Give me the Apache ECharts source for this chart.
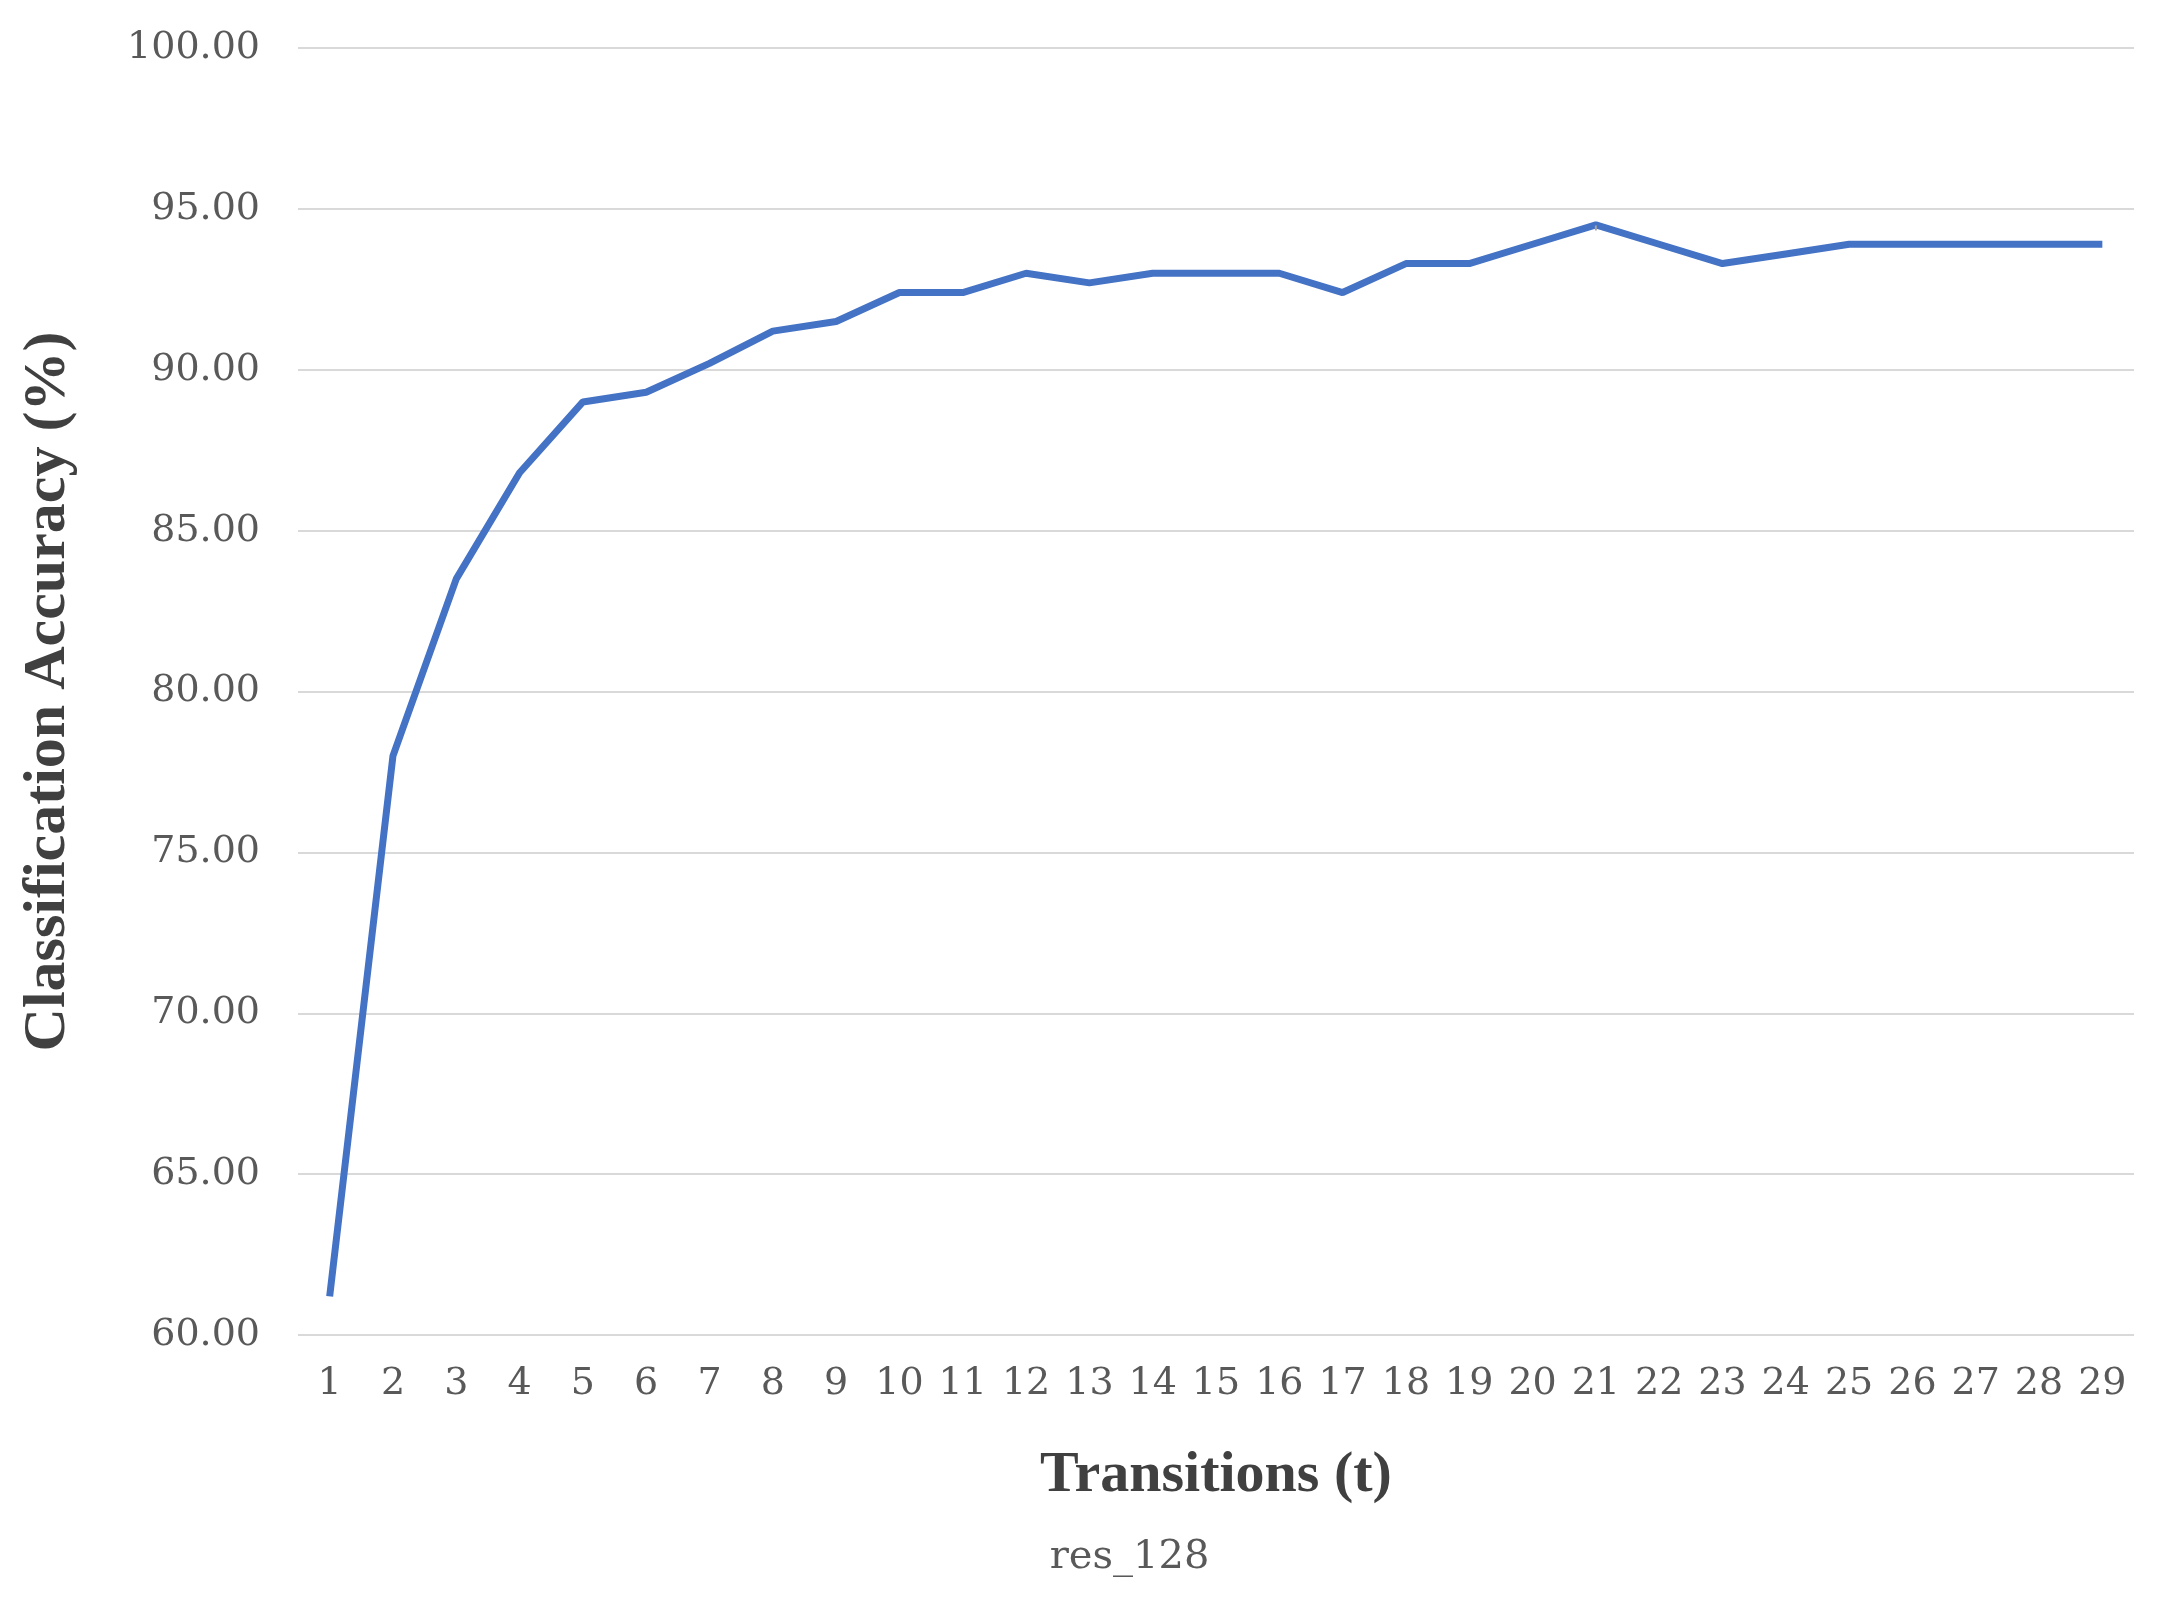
<!DOCTYPE html>
<html><head><meta charset="utf-8">
<script src="https://cdn.jsdelivr.net/npm/echarts@6/dist/echarts.min.js"></script>
<style>html,body{margin:0;background:#fff}#c{width:2164px;height:1597px}</style>
</head><body><div id="c"></div>
<script>
const categories = ['1','2','3','4','5','6','7','8','9','10','11','12','13','14','15','16','17','18','19','20','21','22','23','24','25','26','27','28','29'];
const res128 = [61.2,78.0,83.5,86.8,89.0,89.3,90.2,91.2,91.5,92.4,92.4,93.0,92.7,93.0,93.0,93.0,92.4,93.3,93.3,93.9,94.5,93.9,93.3,93.6,93.9,93.9,93.9,93.9,93.9];
const yTicks = {min:60, max:100, interval:5};
const labelledIndex = 20;
const font = '"DejaVu Serif", "Liberation Serif", serif';
const nameFont = '"Liberation Serif", serif';
const chart = echarts.init(document.getElementById('c'));
chart.setOption({
  animation:false,
  grid:{left:298,right:30,top:48,bottom:262},
  xAxis:{type:'category',data:categories,boundaryGap:true,
    name:'Transitions (t)',nameLocation:'middle',nameGap:112,
    nameTextStyle:{fontFamily:nameFont,fontSize:58,fontWeight:'bold',color:'#404040'},
    axisLine:{show:false},axisTick:{show:false},
    axisLabel:{fontFamily:font,fontSize:38,color:'#595959',margin:30,interval:0}},
  yAxis:{type:'value',min:yTicks.min,max:yTicks.max,interval:yTicks.interval,
    name:'Classification Accuracy (%)',nameLocation:'middle',nameGap:220,
    nameTextStyle:{fontFamily:nameFont,fontSize:60,fontWeight:'bold',color:'#404040'},
    axisLabel:{fontFamily:font,fontSize:38,color:'#595959',margin:38,formatter:v=>v.toFixed(2)},
    splitLine:{lineStyle:{color:'#d9d9d9',width:2}}},
  legend:{bottom:14,left:'center',itemWidth:90,itemHeight:8,icon:'rect',
    textStyle:{fontFamily:font,fontSize:40,color:'#595959'},data:['res_128']},
  series:[{name:'res_128',type:'line',data:res128.map((v,i)=>i===labelledIndex?{value:v,label:{show:true}}:v),
    showSymbol:true,symbol:'circle',symbolSize:1,
    lineStyle:{color:'#4472C4',width:7},itemStyle:{color:'#4472C4',opacity:0},
    label:{show:false,position:'bottom',offset:[35,67],fontFamily:font,fontSize:40,color:'#404040',formatter:p=>Number(p.value).toFixed(2)},
    labelLine:{show:true,lineStyle:{color:'#a6a6a6',width:2}},
    labelLayout:{moveOverlap:false}}]
});
</script></body></html>
